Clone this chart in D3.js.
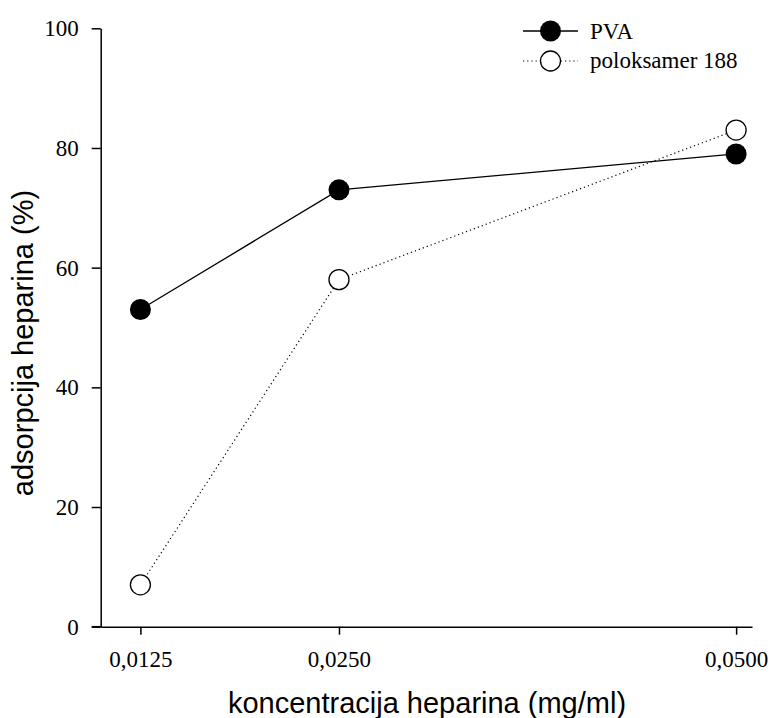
<!DOCTYPE html>
<html>
<head>
<meta charset="utf-8">
<script src="https://cdn.jsdelivr.net/npm/d3@7"></script>
<style>
  body { margin: 0; background: #fff; }
  svg { display: block; }
</style>
</head>
<body>
<svg id="chart" width="770" height="718"></svg>
<script>
// Data
const concentrations = [0.0125, 0.0250, 0.0500];
const tickLabels = ["0,0125", "0,0250", "0,0500"];
const pvaValues = [53, 73, 79];
const poloksamerValues = [7, 58, 83];
const yTicks = [0, 20, 40, 60, 80, 100];

const svg = d3.select("#chart");

// Plot area
const x = d3.scaleLinear().domain([0.01, 0.051]).range([100.7, 752]);
const y = d3.scaleLinear().domain([0, 100]).range([626.7, 28.3]);

const serif = "'Liberation Serif', 'Times New Roman', serif";
const sans = "'Liberation Sans', Arial, sans-serif";

// Y axis
const yAxis = svg.append("g")
    .attr("transform", `translate(${x.range()[0]},0)`)
    .call(d3.axisLeft(y).tickValues(yTicks).tickSize(9).tickPadding(13).tickSizeOuter(0));

// X axis
const xAxis = svg.append("g")
    .attr("transform", `translate(0,${y.range()[0]})`)
    .call(d3.axisBottom(x).tickValues(concentrations)
        .tickFormat((d, i) => tickLabels[i])
        .tickSize(8).tickPadding(16).tickSizeOuter(0));

[yAxis, xAxis].forEach(g => {
    g.select(".domain").attr("stroke", "#000").attr("stroke-width", 1.5);
    g.selectAll(".tick line").attr("stroke", "#000").attr("stroke-width", 1.5);
    g.selectAll(".tick text")
        .attr("fill", "#000")
        .attr("font-family", null)
        .attr("font-size", null)
        .style("font-family", serif)
        .style("font-size", "23px");
});
yAxis.attr("font-size", null).attr("font-family", null);
xAxis.attr("font-size", null).attr("font-family", null);

// Extend the x axis to the left so it meets the y-tick at 0
svg.append("line")
    .attr("x1", x.range()[0] - 9).attr("x2", x.range()[0])
    .attr("y1", y(0)).attr("y2", y(0))
    .attr("stroke", "#000").attr("stroke-width", 1.5);

// Axis titles
svg.append("text")
    .attr("x", 427).attr("y", 713)
    .attr("text-anchor", "middle")
    .style("font-family", sans)
    .style("font-size", "29px")
    .text("koncentracija heparina (mg/ml)");

svg.append("text")
    .attr("transform", "translate(33,343) rotate(-90)")
    .attr("text-anchor", "middle")
    .style("font-family", sans)
    .style("font-size", "29px")
    .text("adsorpcija heparina (%)");

// Series
const line = d3.line()
    .x(d => x(d.c))
    .y(d => y(d.v));

const pvaData = concentrations.map((c, i) => ({ c: c, v: pvaValues[i] }));
const polData = concentrations.map((c, i) => ({ c: c, v: poloksamerValues[i] }));

svg.append("path")
    .datum(polData)
    .attr("d", line)
    .attr("fill", "none")
    .attr("stroke", "#000")
    .attr("stroke-width", 1.2)
    .attr("stroke-dasharray", "1.2 3");

svg.append("path")
    .datum(pvaData)
    .attr("d", line)
    .attr("fill", "none")
    .attr("stroke", "#000")
    .attr("stroke-width", 1.3);

svg.selectAll(".pva-dot")
    .data(pvaData)
    .enter()
    .append("circle")
    .attr("cx", d => x(d.c))
    .attr("cy", d => y(d.v))
    .attr("r", 10.5)
    .attr("fill", "#000");

svg.selectAll(".pol-dot")
    .data(polData)
    .enter()
    .append("circle")
    .attr("cx", d => x(d.c))
    .attr("cy", d => y(d.v))
    .attr("r", 10)
    .attr("fill", "#fff")
    .attr("stroke", "#000")
    .attr("stroke-width", 1.3);

// Legend
const legend = svg.append("g").attr("transform", "translate(523,31)");

legend.append("line")
    .attr("x1", 0).attr("x2", 55).attr("y1", 0).attr("y2", 0)
    .attr("stroke", "#000").attr("stroke-width", 1.3);
legend.append("circle")
    .attr("cx", 27.5).attr("cy", 0).attr("r", 10.5).attr("fill", "#000");
legend.append("text")
    .attr("x", 67).attr("y", 8)
    .style("font-family", serif).style("font-size", "23px")
    .text("PVA");

legend.append("line")
    .attr("x1", 0).attr("x2", 55).attr("y1", 30).attr("y2", 30)
    .attr("stroke", "#000").attr("stroke-width", 1.2)
    .attr("stroke-dasharray", "1.2 3");
legend.append("circle")
    .attr("cx", 27.5).attr("cy", 30).attr("r", 10)
    .attr("fill", "#fff").attr("stroke", "#000").attr("stroke-width", 1.3);
legend.append("text")
    .attr("x", 67).attr("y", 37)
    .style("font-family", serif).style("font-size", "23px")
    .text("poloksamer 188");
</script>
</body>
</html>
